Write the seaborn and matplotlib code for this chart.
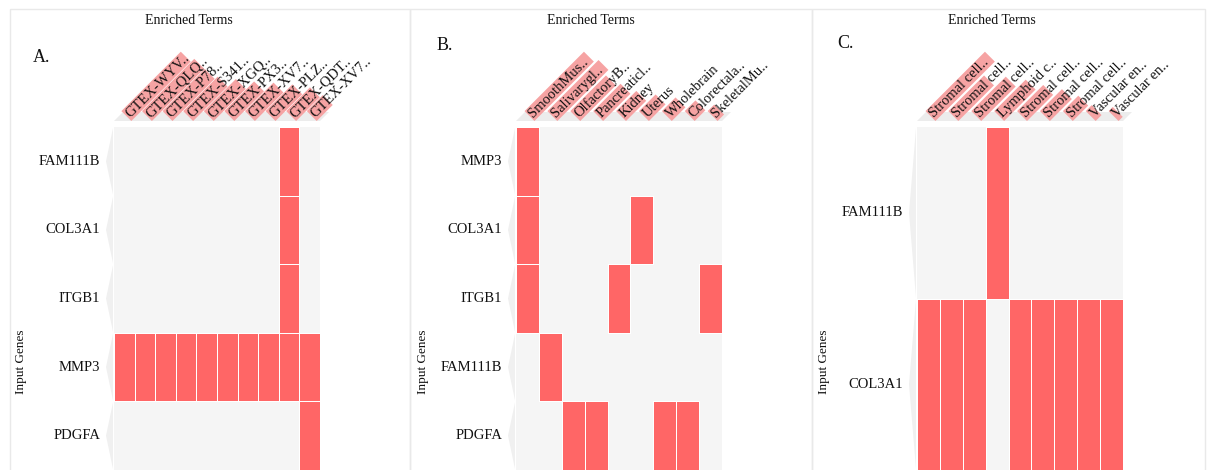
import numpy as np
import pandas as pd
import matplotlib
matplotlib.use("Agg")
import matplotlib.pyplot as plt
import matplotlib.transforms as mtransforms
import seaborn as sns
from matplotlib.colors import ListedColormap
from matplotlib.patches import Polygon, Rectangle

# ---------------- data ----------------
genes_A = ["FAM111B", "COL3A1", "ITGB1", "MMP3", "PDGFA"]
terms_A = ["GTEX-WYV..", "GTEX-QLQ..", "GTEX-P78..", "GTEX-S341..", "GTEX-XGQ..",
           "GTEX-PX3..", "GTEX-XV7..", "GTEX-PLZ..", "GTEX-QDT..", "GTEX-XV7.."]
hits_A = [[0, 0, 0, 0, 0, 0, 0, 0, 1, 0],
          [0, 0, 0, 0, 0, 0, 0, 0, 1, 0],
          [0, 0, 0, 0, 0, 0, 0, 0, 1, 0],
          [1, 1, 1, 1, 1, 1, 1, 1, 1, 1],
          [0, 0, 0, 0, 0, 0, 0, 0, 0, 1]]
scores_A = [1.00, 0.88, 0.71, 0.58, 0.54, 0.50, 0.48, 0.45, 0.40, 0.27]

genes_B = ["MMP3", "COL3A1", "ITGB1", "FAM111B", "PDGFA"]
terms_B = ["SmoothMus..", "Salivarygl..", "OlfactoryB..", "Pancreaticl..", "Kidney",
           "Uterus", "Wholebrain", "Colorectala..", "SkeletalMu.."]
hits_B = [[1, 0, 0, 0, 0, 0, 0, 0, 0],
          [1, 0, 0, 0, 0, 1, 0, 0, 0],
          [1, 0, 0, 0, 1, 0, 0, 0, 1],
          [0, 1, 0, 0, 0, 0, 0, 0, 0],
          [0, 0, 1, 1, 0, 0, 1, 1, 0]]
scores_B = [1.00, 0.86, 0.60, 0.46, 0.34, 0.28, 0.23, 0.18, 0.11]

genes_C = ["FAM111B", "COL3A1"]
terms_C = ["Stromal cell..", "Stromal cell..", "Stromal cell..", "Lymphoid c..",
           "Stromal cell..", "Stromal cell..", "Stromal cell..", "Vascular en..",
           "Vascular en.."]
hits_C = [[0, 0, 0, 1, 0, 0, 0, 0, 0],
          [1, 1, 1, 0, 1, 1, 1, 1, 1]]
scores_C = [1.00, 0.60, 0.58, 0.53, 0.44, 0.37, 0.26, 0.10, 0.07]

panel_letters = ["A.", "B.", "C."]

# ---------------- style ----------------
sns.set_theme(style="white")
plt.rcParams["font.family"] = ["Liberation Serif", "DejaVu Serif"]
TXT = "#111111"
RED = "#ff6666"
PINK = "#f6a3a3"
BG = "#f5f5f5"

W, H = 1208, 470
fig = plt.figure(figsize=(W / 100, H / 100), dpi=100)
fig.patch.set_facecolor("white")

ov = fig.add_axes([0, 0, 1, 1], zorder=0)
ov.set_xlim(0, W)
ov.set_ylim(H, 0)
ov.axis("off")

frames = [(10, 410), (410, 812), (812, 1205)]
for (l, r) in frames:
    ov.add_patch(Rectangle((l, 9), r - l, H + 10, fill=False, edgecolor="#e9e9e9", lw=1.0))

grid_left_px = [114, 516, 917]
grid_w_px = 206
grid_top_px = 127
letter_pos = [(33, 58), (437, 46), (837, 43)]

panels = [(genes_A, terms_A, hits_A, scores_A),
          (genes_B, terms_B, hits_B, scores_B),
          (genes_C, terms_C, hits_C, scores_C)]

cmap = ListedColormap([RED])
LMAX = 84.0
s2 = np.sqrt(2) / 2
XSHIFT = 8  # px shift of the rotated column labels

for k, (genes, terms, hits, scores) in enumerate(panels):
    gl = grid_left_px[k]
    ax = fig.add_axes([gl / W, 0, grid_w_px / W, 1 - grid_top_px / H], zorder=2)
    df = pd.DataFrame(hits, index=genes, columns=terms)
    ax.set_facecolor(BG)
    sns.heatmap(df, mask=(df == 0), cmap=cmap, vmin=0, vmax=1, cbar=False,
                linewidths=0.5, linecolor="white", ax=ax,
                xticklabels=True, yticklabels=True)
    mesh = ax.collections[0]
    flat = df.values.ravel()
    ec = np.array([(1, 1, 1, 1) if v else (1, 1, 1, 0) for v in flat])
    mesh.set_edgecolor(ec)
    ax.set_facecolor(BG)
    ax.xaxis.tick_top()
    ax.tick_params(axis="x", which="both", top=True, bottom=False, labeltop=True,
                   labelbottom=False, length=0, pad=5)
    ax.tick_params(axis="y", length=0, pad=10)
    ax.set_xticklabels(terms, rotation=45, ha="left", va="bottom",
                       rotation_mode="anchor", fontsize=10.5, color=TXT)
    off = mtransforms.ScaledTranslation(XSHIFT / 100, 0, fig.dpi_scale_trans)
    for lab in ax.get_xticklabels():
        lab.set_transform(lab.get_transform() + off)
    ax.set_yticklabels(genes, rotation=0, fontsize=10.5, color=TXT)
    ax.set_xlabel("")
    ax.set_ylabel("Input Genes", fontsize=9.5, color=TXT)
    ax.yaxis.set_label_coords(-0.42, 0.315)

    ncol = len(terms)
    nrow = len(genes)
    colw = grid_w_px / ncol
    gr = gl + grid_w_px
    top = grid_top_px
    yb = top - 6
    h = 9
    ov.add_patch(Polygon([(gl, yb), (gr, yb), (gr + h, yb - h), (gl + h, yb - h)],
                         closed=True, facecolor="#ececec", edgecolor="none"))
    smax = max(scores)
    for i, s in enumerate(scores):
        cx = gl + (i + 0.5) * colw + XSHIFT
        p0 = np.array([cx - 1, yb])
        u = np.array([s2, -s2])
        nrm = np.array([-s2, -s2])
        L = s / smax * LMAX
        wbar = 14
        pts = [p0, p0 + u * L, p0 + u * L + nrm * wbar, p0 + nrm * wbar]
        ov.add_patch(Polygon(pts, closed=True, facecolor=PINK, edgecolor="none"))
    rowh = (H - top) / nrow
    for j in range(nrow):
        rt = top + j * rowh
        ov.add_patch(Polygon([(gl - 1, rt + 1), (gl - 8, rt + rowh / 2), (gl - 1, rt + rowh - 1)],
                             closed=True, facecolor="#f0f0f0", edgecolor="none"))

    fig.text((gl + 0.365 * grid_w_px) / W, 1 - 20 / H, "Enriched Terms",
             ha="center", va="center", fontsize=10, color=TXT)
    lx, ly = letter_pos[k]
    fig.text(lx / W, 1 - ly / H, panel_letters[k], ha="left", va="center",
             fontsize=13, color=TXT)

fig.savefig("out.png", dpi=100)
